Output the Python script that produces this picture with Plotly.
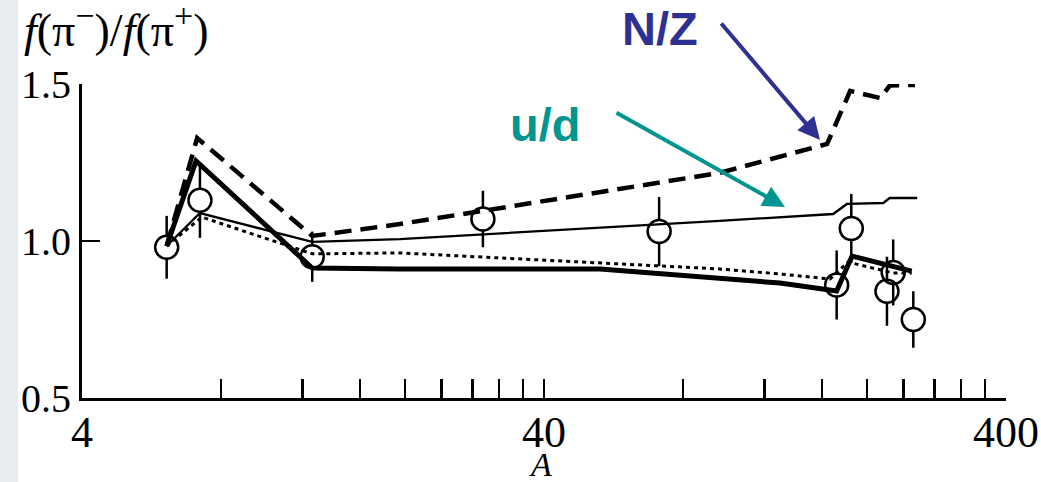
import plotly.graph_objects as go

# ---------------- data ----------------
A_data = [6.1, 7.2, 12.6, 29.5, 71, 172, 185, 221, 228, 252]
R_data = [0.98, 1.13, 0.95, 1.07, 1.03, 0.86, 1.04, 0.84, 0.90, 0.75]
R_err = [0.10, 0.12, 0.08, 0.09, 0.11, 0.11, 0.11, 0.11, 0.105, 0.09]

# dashed curve (N/Z)
A_nz = [6.1, 7.1, 12.6, 19.5, 29.5, 96, 164, 184, 214, 224, 254]
R_nz = [0.984, 1.328, 1.016, 1.054, 1.096, 1.217, 1.309, 1.478, 1.455, 1.495, 1.497]

# thin solid curve (u/d)
A_ud = [6.1, 7.2, 12.6, 19.5, 96, 169, 181, 217, 224, 257]
R_ud = [0.984, 1.089, 0.997, 1.006, 1.064, 1.086, 1.118, 1.121, 1.137, 1.137]

# thick solid curve
A_thick = [6.1, 7.06, 12.6, 19.5, 52.9, 96, 129.7, 172, 185.7, 250]
R_thick = [0.984, 1.255, 0.914, 0.911, 0.911, 0.882, 0.866, 0.841, 0.952, 0.904]

# dotted curve
A_dot = [6.1, 7.27, 12.6, 19.5, 96, 129.7, 166.4, 182, 228, 250]
R_dot = [0.984, 1.076, 0.959, 0.962, 0.911, 0.895, 0.879, 0.933, 0.898, 0.898]

x_tickvals = [4, 8, 12, 16, 20, 24, 28, 32, 36, 40, 80, 120, 160, 200, 240, 280, 320, 360, 400]
x_ticklabels = {4: "4", 40: "40", 400: "400"}
y_tickvals = [0.5, 1.0, 1.5]
y_ticktext = ["0.5", "1.0", "1.5"]

# ---------------- figure ----------------
W, H = 1041, 482
# plot area in window pixels: x 82..1006, y 84..398
L, T = 82, 84
R = W - 1006
B = H - 398
plot_w = W - L - R
plot_h = H - T - B
circle_r = 11.5 / plot_h  # marker radius in y data units (range is 1.0)

serif = "Liberation Serif, Times New Roman, serif"
sans = "Liberation Sans, Arial, sans-serif"

fig = go.Figure()

fig.add_trace(go.Scatter(x=A_nz, y=R_nz, mode="lines",
                         line=dict(color="black", width=4.5, dash="17px,9px"),
                         hoverinfo="skip"))
fig.add_trace(go.Scatter(x=A_ud, y=R_ud, mode="lines",
                         line=dict(color="black", width=2.3),
                         hoverinfo="skip"))
fig.add_trace(go.Scatter(x=A_thick, y=R_thick, mode="lines",
                         line=dict(color="black", width=5),
                         hoverinfo="skip"))
fig.add_trace(go.Scatter(x=A_dot, y=R_dot, mode="lines",
                         line=dict(color="black", width=3, dash="4px,4px"),
                         hoverinfo="skip"))

# error bars drawn outside the open circles
ex, ey = [], []
for a, v, e in zip(A_data, R_data, R_err):
    ex += [a, a, None, a, a, None]
    ey += [v + circle_r, v + e, None, v - circle_r, v - e, None]
fig.add_trace(go.Scatter(x=ex, y=ey, mode="lines",
                         line=dict(color="black", width=2.5),
                         hoverinfo="skip"))

fig.add_trace(go.Scatter(x=A_data, y=R_data, mode="markers",
                         marker=dict(symbol="circle-open", size=23, color="black",
                                     line=dict(width=2.5, color="black")),
                         cliponaxis=False, hoverinfo="skip"))

fig.update_layout(
    width=W, height=H,
    margin=dict(l=L, r=R, t=T, b=B, autoexpand=False),
    paper_bgcolor="white", plot_bgcolor="white",
    showlegend=False,
    xaxis=dict(type="log", range=[0.60206, 2.60206],
               tickvals=x_tickvals,
               ticktext=[x_ticklabels.get(v, "") for v in x_tickvals],
               ticks="inside", ticklen=19, tickwidth=2.5, tickcolor="black",
               showline=True, linewidth=3, linecolor="black",
               showgrid=False, zeroline=False, automargin=False,
               tickfont=dict(family=serif, size=44, color="black"),
               ticklabelstandoff=-7),
    yaxis=dict(range=[0.5, 1.5],
               tickvals=y_tickvals, ticktext=y_ticktext,
               ticks="inside", ticklen=18, tickwidth=2.5, tickcolor="black",
               showline=True, linewidth=3, linecolor="black",
               showgrid=False, zeroline=False, automargin=False,
               tickfont=dict(family=serif, size=40, color="black"),
               ticklabelstandoff=0),
)

def px(xp, yp):
    """window pixel -> paper coordinates"""
    return (xp - L) / plot_w, (H - B - yp) / plot_h

sx0, sy0 = px(0, 482)
sx1, sy1 = px(18, 0)
fig.update_layout(shapes=[dict(type="rect", xref="paper", yref="paper",
                               x0=sx0, x1=sx1, y0=sy0, y1=sy1,
                               fillcolor="#e8ebf0", line=dict(width=0), layer="below")])

annos = []
x0, y0 = px(116, 27)
annos.append(dict(x=x0, y=y0, xref="paper", yref="paper", showarrow=False,
                  text="<i>f</i>(π<sup><span style='font-size:34px'>−</span></sup>)/"
                       "<i>f</i>(π<sup><span style='font-size:34px'>+</span></sup>)",
                  font=dict(family=serif, size=46, color="black"),
                  xanchor="center", yanchor="middle"))
x0, y0 = px(540, 464)
annos.append(dict(x=x0, y=y0, xref="paper", yref="paper", showarrow=False,
                  text="<i>A</i>", font=dict(family=serif, size=34, color="black"),
                  xanchor="center", yanchor="middle"))
x0, y0 = px(660, 28)
annos.append(dict(x=x0, y=y0, xref="paper", yref="paper", showarrow=False,
                  text="<b>N/Z</b>", font=dict(family=sans, size=47, color="#2e3192"),
                  xanchor="center", yanchor="middle"))
x0, y0 = px(545, 124)
annos.append(dict(x=x0, y=y0, xref="paper", yref="paper", showarrow=False,
                  text="<b>u/d</b>", font=dict(family=sans, size=47, color="#00968f"),
                  xanchor="center", yanchor="middle"))
# arrows
x0, y0 = px(820, 140)
annos.append(dict(x=x0, y=y0, xref="paper", yref="paper", text="", showarrow=True,
                  ax=-100, ay=-118, arrowhead=2, arrowsize=1.1, arrowwidth=4,
                  arrowcolor="#2e3192"))
x0, y0 = px(785, 207)
annos.append(dict(x=x0, y=y0, xref="paper", yref="paper", text="", showarrow=True,
                  ax=-170, ay=-95, arrowhead=2, arrowsize=1.1, arrowwidth=4,
                  arrowcolor="#00968f"))
fig.update_layout(annotations=annos)

fig.write_html("out.html",
               config={"displayModeBar": False, "staticPlot": True},
               post_script="document.body.style.margin='0px';"
                           "document.body.style.overflow='hidden';")
